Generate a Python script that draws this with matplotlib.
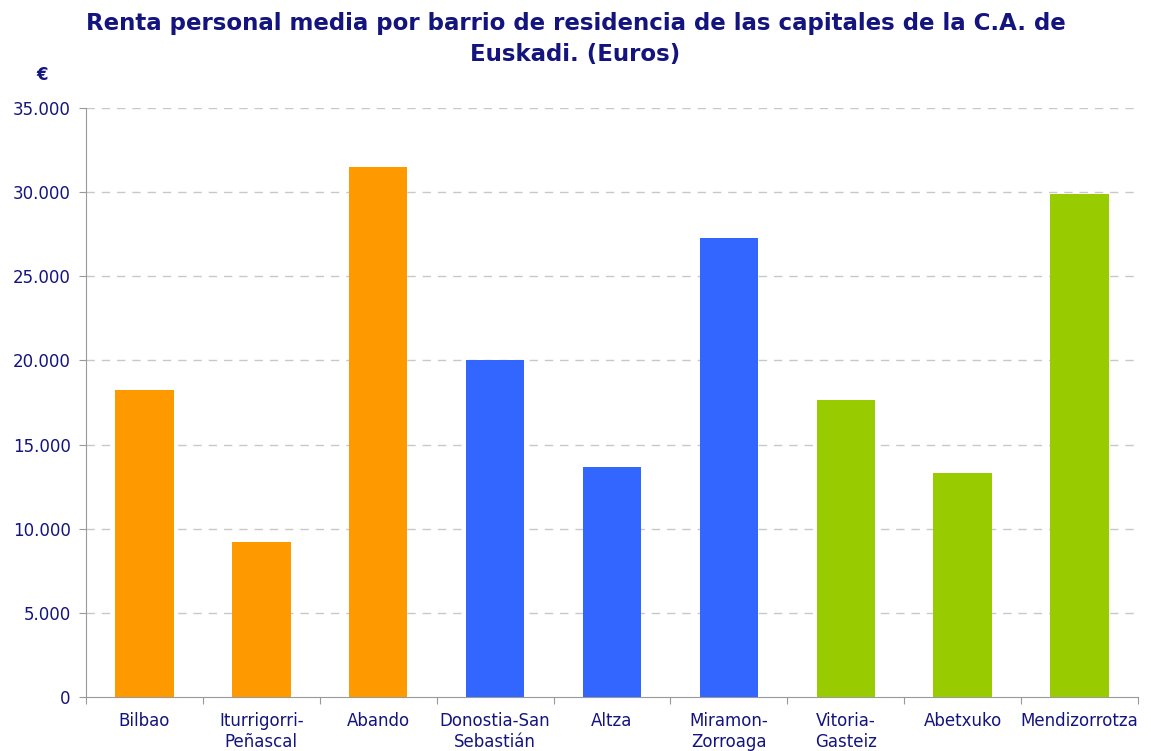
import numpy as np
import matplotlib.pyplot as plt
from matplotlib.ticker import FuncFormatter

# datos
barrios = ['Bilbao', 'Iturrigorri-\nPeñascal', 'Abando', 'Donostia-San\nSebastián', 'Altza',
           'Miramon-\nZorroaga', 'Vitoria-\nGasteiz', 'Abetxuko', 'Mendizorrotza']
renta = [18230, 9200, 31480, 20010, 13660, 27260, 17640, 13300, 29880]
colores = ['#FF9900'] * 3 + ['#3366FF'] * 3 + ['#99CC00'] * 3
yticks = [0, 5000, 10000, 15000, 20000, 25000, 30000, 35000]

navy = '#14147F'

fig = plt.figure(figsize=(11.51, 7.51), dpi=100)
ax = fig.add_axes([0.0747, 0.0719, 0.914, 0.7843])

x = np.arange(len(barrios))
ax.bar(x, renta, width=0.5, color=colores, zorder=3)

ax.set_xlim(-0.5, len(barrios) - 0.5)
ax.set_ylim(0, 35000)
ax.set_yticks(yticks)
ax.yaxis.set_major_formatter(FuncFormatter(lambda v, p: f'{int(v):,}'.replace(',', '.')))
for t in yticks[1:]:
    ax.axhline(t, color='#C8C8C8', lw=1, ls=(0, (6, 5)), zorder=1)

# marcas entre categorias
ax.set_xticks(np.arange(len(barrios) + 1) - 0.5)
ax.set_xticklabels([])
ax.set_xticks(x, minor=True)
ax.set_xticklabels(barrios, minor=True)
ax.tick_params(axis='x', which='minor', length=0, pad=11, labelsize=12, labelcolor=navy)
ax.tick_params(axis='x', which='major', length=5, color='#999999')
ax.tick_params(axis='y', length=5, color='#999999', labelsize=12, labelcolor=navy, pad=6)

for s in ['top', 'right']:
    ax.spines[s].set_visible(False)
for s in ['left', 'bottom']:
    ax.spines[s].set_color('#999999')

fig.text(0.5, 0.948, 'Renta personal media por barrio de residencia de las capitales de la C.A. de\nEuskadi. (Euros)',
         ha='center', va='center', fontsize=16.5, fontweight='bold', color=navy, linespacing=1.4)
fig.text(0.037, 0.9, '€', ha='center', va='center', fontsize=12, fontweight='bold', color=navy)

fig.savefig('out.png', dpi=100)
